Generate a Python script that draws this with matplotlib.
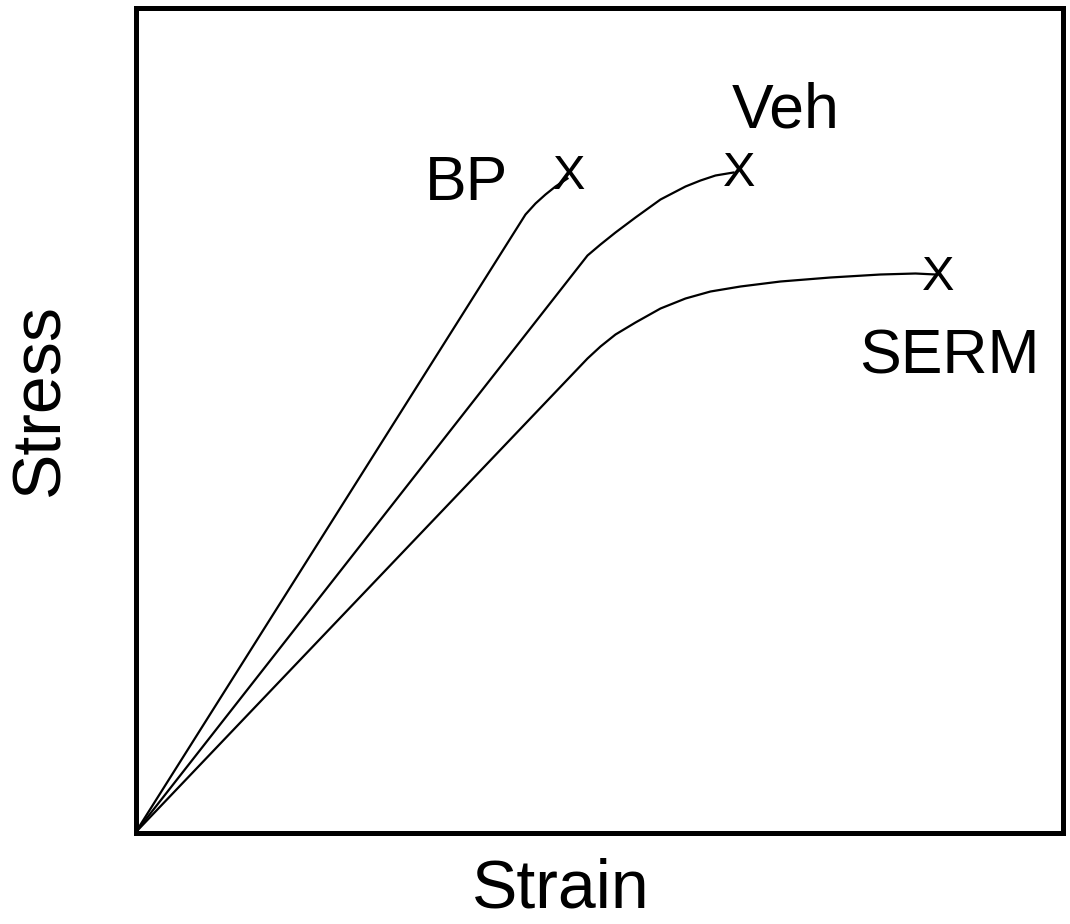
import matplotlib
matplotlib.use("Agg")
import matplotlib.pyplot as plt

plt.rcParams['font.family'] = ['Liberation Sans', 'DejaVu Sans']

# Data (arbitrary units)
bp_strain = [0, 390, 400, 410, 420, 432]
bp_stress = [0, 618, 629, 638, 646, 654]
veh_strain = [0, 452, 465, 480, 500, 525, 550, 565, 580, 598]
veh_stress = [0, 577, 588, 600, 615, 633, 646, 652, 657, 660]
serm_strain = [0, 452, 465, 480, 500, 525, 550, 575, 605, 645, 695, 745, 780, 800]
serm_stress = [0, 474, 486, 498, 510, 524, 534, 541, 546, 551, 555, 558, 559, 558]
end_points = {"BP": (434, 656), "Veh": (604, 659), "SERM": (803, 555)}
labels = {"BP": (331, 649), "Veh": (650, 722), "SERM": (814, 476)}

W, H = 1070, 924
fig = plt.figure(figsize=(W/100, H/100), dpi=100)
ax = fig.add_axes([135.5/W, (H-832.5)/H, (1062.5-135.5)/W, (832.5-7.5)/H])
ax.set_xlim(0, 927)
ax.set_ylim(0, 825)

for xs, ys in [(bp_strain, bp_stress), (veh_strain, veh_stress), (serm_strain, serm_stress)]:
    ax.plot(xs, ys, color='black', lw=1.6, solid_joinstyle='round')

for name, (x, y) in end_points.items():
    ax.text(x, y, "X", fontsize=35, ha='center', va='center', color='black')

for name, (x, y) in labels.items():
    ax.text(x, y, name, fontsize=45, ha='center', va='center', color='black')

ax.set_xticks([])
ax.set_yticks([])
for s in ax.spines.values():
    s.set_linewidth(3.6)
    s.set_color('black')

fig.text(561/W, 1 - 889/H, "Strain", fontsize=49, ha='center', va='center')
fig.text(40/W, 1 - 399/H, "Stress", fontsize=49, ha='center', va='center', rotation=90)

fig.savefig("out.png", dpi=100)
